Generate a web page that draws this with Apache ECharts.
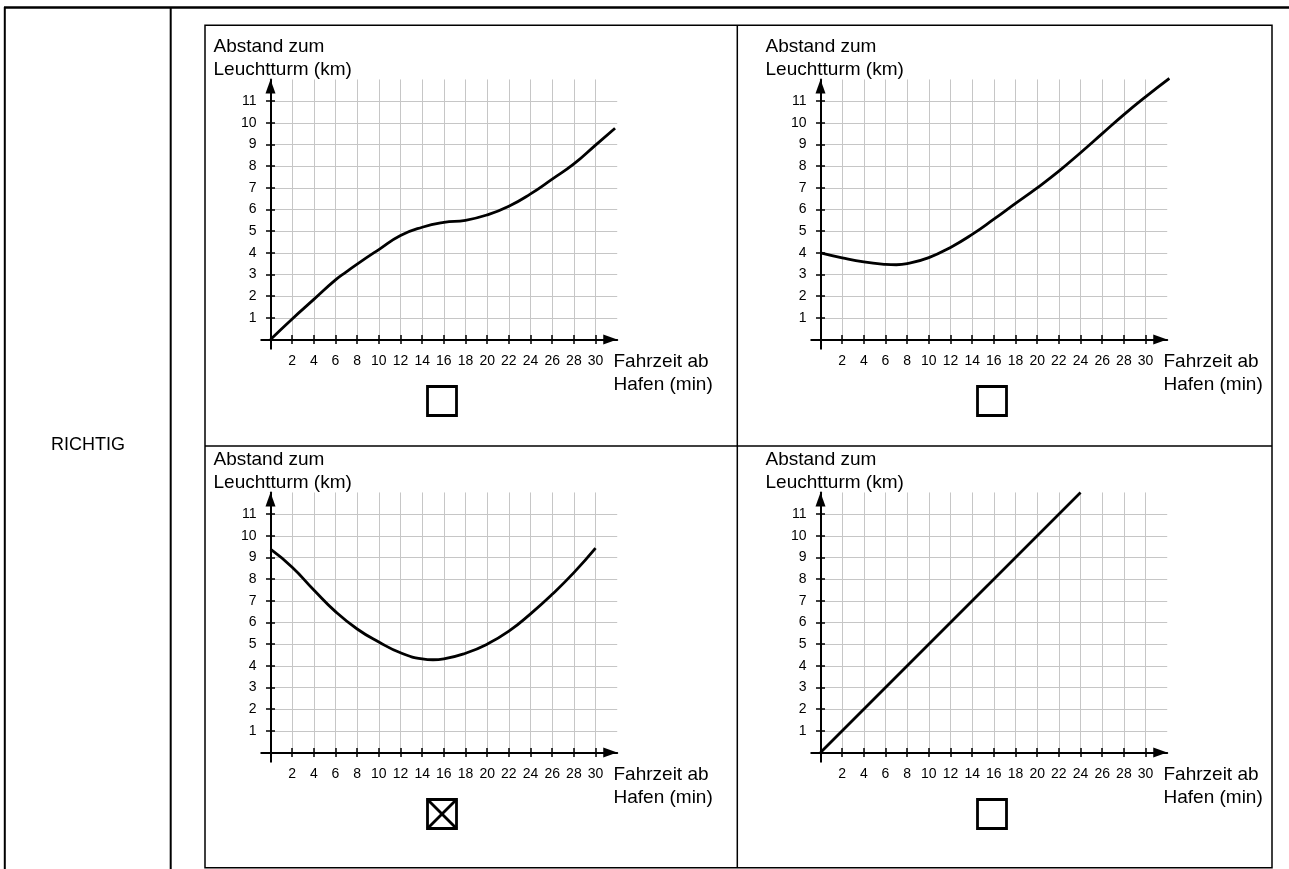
<!DOCTYPE html>
<html>
<head>
<meta charset="utf-8">
<title>Abstand zum Leuchtturm</title>
<script src="https://cdn.jsdelivr.net/npm/echarts@6.0.0/dist/echarts.min.js"></script>
<style>
    html, body { margin: 0; padding: 0; background: #fff; }
    #main { width: 1289px; height: 869px; }
</style>
</head>
<body>
<div id="main"></div>
<script>
// Fahrzeit ab Hafen (min) -> Abstand zum Leuchtturm (km), one pair per panel
var timeA = [0, 2, 4, 6, 7, 8, 10, 12, 14, 16, 18, 20, 22, 24, 26, 28, 30, 31.8];
var distA = [0, 0.95, 1.85, 2.75, 3.12, 3.48, 4.15, 4.8, 5.18, 5.4, 5.5, 5.75, 6.15, 6.72, 7.4, 8.1, 8.97, 9.75];

var timeB = [0, 2, 4, 6, 7, 8, 10, 12, 14, 16, 18, 20, 22, 24, 26, 28, 30, 32.2];
var distB = [4.0, 3.77, 3.58, 3.47, 3.45, 3.5, 3.78, 4.25, 4.85, 5.55, 6.28, 7.0, 7.77, 8.62, 9.5, 10.38, 11.2, 12.05];

var timeC = [0, 2, 4, 6, 8, 10, 12, 14, 15, 16, 18, 20, 22, 24, 26, 28, 30];
var distC = [9.38, 8.55, 7.5, 6.5, 5.7, 5.1, 4.6, 4.32, 4.28, 4.32, 4.58, 5.0, 5.6, 6.4, 7.3, 8.3, 9.43];

var timeD = [0, 24];
var distD = [0, 12];

var xTicks = [2, 4, 6, 8, 10, 12, 14, 16, 18, 20, 22, 24, 26, 28, 30];
var yTicks = [1, 2, 3, 4, 5, 6, 7, 8, 9, 10, 11];
var checked = [false, false, true, false];

var yNameLines = ['Abstand zum', 'Leuchtturm (km)'];
var xNameLines = ['Fahrzeit ab', 'Hafen (min)'];
var answerLabel = 'RICHTIG';

var xMax = 32, yMax = 12;
var xUnit = 10.835, yUnit = 21.67;
var origins = [[270.5, 339.5], [820.5, 339.5], [270.5, 752.5], [820.5, 752.5]];
var curves = [[timeA, distA], [timeB, distB], [timeC, distC], [timeD, distD]];
var font = '"Liberation Sans", Arial, Helvetica, sans-serif';

function baseAxis(i, max, extra) {
    var axis = {
        gridIndex: i,
        type: 'value',
        min: 0,
        max: max,
        axisLine: { show: false, onZero: false },
        axisTick: { show: false },
        axisLabel: { show: false },
        splitLine: { show: false }
    };
    for (var k in extra) axis[k] = extra[k];
    return axis;
}

function text(str, x, y, size, align) {
    return {
        type: 'text',
        silent: true,
        style: {
            text: str, x: x, y: y,
            fill: '#000',
            fontSize: size, fontFamily: font,
            align: align, verticalAlign: 'middle',
            textAlign: align, textVerticalAlign: 'middle'
        }
    };
}

function line(x1, y1, x2, y2, w) {
    return {
        type: 'line',
        silent: true,
        shape: { x1: x1, y1: y1, x2: x2, y2: y2 },
        style: { stroke: '#000', lineWidth: w }
    };
}

var grids = [], xAxes = [], yAxes = [], series = [], graphics = [];

origins.forEach(function (o, i) {
    grids.push({
        left: o[0],
        top: o[1] - yMax * yUnit,
        width: xMax * xUnit,
        height: yMax * yUnit,
        outerBoundsMode: 'none',
        containLabel: false
    });

    var tickStyle = { color: '#000', width: 1.5 };
    var labelStyle = { show: true, color: '#000', fontSize: 14, fontFamily: font };

    // grid lines
    xAxes.push(baseAxis(i, xMax, {
        interval: 2, position: 'bottom', z: 0,
        splitLine: { show: true, showMinLine: false, showMaxLine: false, lineStyle: { color: '#c6c6c6', width: 1 } }
    }));
    yAxes.push(baseAxis(i, yMax, {
        interval: 1, position: 'left', z: 0,
        splitLine: { show: true, showMinLine: false, showMaxLine: false, lineStyle: { color: '#c6c6c6', width: 1 } }
    }));

    // axis line with arrow, outside ticks, labels
    var xLab = {}; for (var k in labelStyle) xLab[k] = labelStyle[k];
    xLab.customValues = xTicks; xLab.margin = 15;
    xAxes.push(baseAxis(i, xMax, {
        position: 'bottom', z: 3,
        axisLine: { show: true, onZero: false, symbol: ['none', 'triangle'], symbolSize: [10, 14], symbolOffset: [0, -7],
            lineStyle: { color: '#000', width: 2 } },
        axisTick: { show: true, inside: false, length: 4.5, customValues: xTicks, lineStyle: tickStyle },
        axisLabel: xLab
    }));
    var yLab = {}; for (var k2 in labelStyle) yLab[k2] = labelStyle[k2];
    yLab.customValues = yTicks; yLab.margin = 14;
    yAxes.push(baseAxis(i, yMax, {
        position: 'left', z: 3,
        axisLine: { show: true, onZero: false, symbol: ['none', 'triangle'], symbolSize: [10, 14], symbolOffset: [0, -7],
            lineStyle: { color: '#000', width: 2 } },
        axisTick: { show: true, inside: false, length: 4.5, customValues: yTicks, lineStyle: tickStyle },
        axisLabel: yLab
    }));

    // inside half of the crossing ticks
    xAxes.push(baseAxis(i, xMax, {
        position: 'bottom', z: 3,
        axisTick: { show: true, inside: true, length: 4.5, customValues: xTicks, lineStyle: tickStyle }
    }));
    yAxes.push(baseAxis(i, yMax, {
        position: 'left', z: 3,
        axisTick: { show: true, inside: true, length: 4.5, customValues: yTicks, lineStyle: tickStyle }
    }));

    // axes run a bit past the origin
    xAxes.push(baseAxis(i, xMax, {
        position: 'bottom', z: 3,
        axisTick: { show: true, inside: false, length: 10, customValues: [0], lineStyle: { color: '#000', width: 2 } }
    }));
    yAxes.push(baseAxis(i, yMax, {
        position: 'left', z: 3,
        axisTick: { show: true, inside: false, length: 10, customValues: [0], lineStyle: { color: '#000', width: 2 } }
    }));

    var pts = curves[i][0].map(function (t, j) { return [t, curves[i][1][j]]; });
    series.push({
        type: 'line',
        xAxisIndex: i * 4,
        yAxisIndex: i * 4,
        data: pts,
        showSymbol: false,
        smooth: 0.5,
        clip: false,
        silent: true,
        z: 4,
        lineStyle: { color: '#000', width: 2.8 }
    });

    // axis titles and answer box
    graphics.push(text(yNameLines[0], o[0] - (i % 2 ? 55 : 57), o[1] - 293, 19, 'left'));
    graphics.push(text(yNameLines[1], o[0] - (i % 2 ? 55 : 57), o[1] - 270, 19, 'left'));
    graphics.push(text(xNameLines[0], o[0] + 343, o[1] + 22, 19, 'left'));
    graphics.push(text(xNameLines[1], o[0] + 343, o[1] + 45.5, 19, 'left'));

    var bx = o[0] + 157, by = o[1] + 47, bs = 29;
    graphics.push({
        type: 'rect',
        silent: true,
        shape: { x: bx, y: by, width: bs, height: bs },
        style: { fill: 'none', stroke: '#000', lineWidth: 2.8 }
    });
    if (checked[i]) {
        graphics.push(line(bx, by, bx + bs, by + bs, 2.8));
        graphics.push(line(bx + bs, by, bx, by + bs, 2.8));
    }
});

// table frame
graphics.push(line(4, 7.5, 1289, 7.5, 2.5));
graphics.push(line(4.8, 7, 4.8, 869, 2));
graphics.push(line(170.7, 7, 170.7, 869, 2));
graphics.push({
    type: 'rect',
    silent: true,
    shape: { x: 205, y: 25.3, width: 1067, height: 842.5 },
    style: { fill: 'none', stroke: '#000', lineWidth: 1.5 }
});
graphics.push(line(737.3, 25.3, 737.3, 868, 1.5));
graphics.push(line(205, 446, 1272, 446, 1.5));
graphics.push(text(answerLabel, 88, 445, 18, 'center'));

var option = {
    animation: false,
    backgroundColor: '#fff',
    grid: grids,
    xAxis: xAxes,
    yAxis: yAxes,
    series: series,
    graphic: { elements: graphics }
};

var chart = echarts.init(document.getElementById('main'), null, { renderer: 'canvas' });
chart.setOption(option);
</script>
</body>
</html>
